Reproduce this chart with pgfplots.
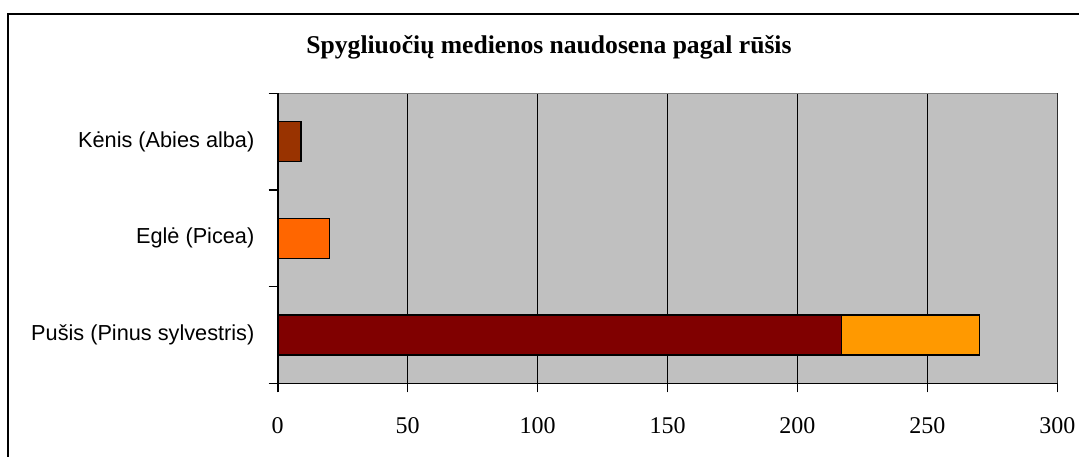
\documentclass[border=0pt]{standalone}
\usepackage{fontspec}
\setmainfont{Liberation Serif}
\setsansfont{Liberation Sans}
\usepackage{pgfplots}
\pgfplotsset{compat=1.18}
\definecolor{bg}{HTML}{C0C0C0}
\definecolor{kenis}{HTML}{993300}
\definecolor{egle}{HTML}{FF6600}
\definecolor{pusisA}{HTML}{800000}
\definecolor{pusisB}{HTML}{FF9900}
\definecolor{edgegray}{HTML}{808080}
\begin{document}
\begin{tikzpicture}
\path[use as bounding box] (0,0) rectangle (539.5bp,228.5bp);
\clip (0,0) rectangle (539.5bp,228.5bp);
\draw[line width=1bp] (4.15bp,-10bp) -- (4.15bp,221.6bp) -- (560bp,221.6bp);
\node[anchor=base, font=\bfseries\fontsize{12.8bp}{15bp}\selectfont] at (274.5bp,201.85bp) {Spygliuočių medienos naudosena pagal rūšis};
\begin{axis}[
  at={(138.85bp,36.85bp)}, anchor=south west,
  scale only axis, width=389.8bp, height=145bp,
  xmin=0, xmax=300, ymin=-0.5, ymax=2.5,
  axis background/.style={fill=bg},
  axis line style={draw=none},
  xtick={0,50,...,300},
  xtick pos=lower, ytick pos=left,
  xmajorgrids, major grid style={black, line width=0.8bp},
  ytick={-0.5,0.5,1.5,2.5}, yticklabels={},
  extra y ticks={0,1,2},
  extra y tick labels={Pušis (Pinus sylvestris), Eglė (Picea), Kėnis (Abies alba)},
  extra y tick style={major tick length=0pt, ymajorgrids=false},
  tick align=outside, major tick length=4.5bp,
  tick style={black, line width=0.8bp},
  xticklabel style={font=\fontsize{12bp}{14bp}\selectfont, yshift=-9bp},
  yticklabel style={font=\sffamily\fontsize{10.85bp}{13bp}\selectfont, anchor=east, inner sep=0pt, xshift=-11.5bp},
  /pgf/number format/assume math mode=true,
  xbar, bar width=20bp, bar shift=0pt,
  every axis plot/.append style={draw=black, line width=0.8bp},
]
\addplot[fill=pusisB] coordinates {(270,0)};
\addplot[fill=pusisA] coordinates {(217,0)};
\addplot[fill=egle] coordinates {(20,1)};
\addplot[fill=kenis] coordinates {(9,2)};
\draw[edgegray, line width=0.8bp] (rel axis cs:0,1) -- (rel axis cs:1,1) -- (rel axis cs:1,0);
\draw[black, line width=0.8bp] (rel axis cs:0,1) -- (rel axis cs:0,0) -- (rel axis cs:1,0);
\end{axis}
\end{tikzpicture}
\end{document}
